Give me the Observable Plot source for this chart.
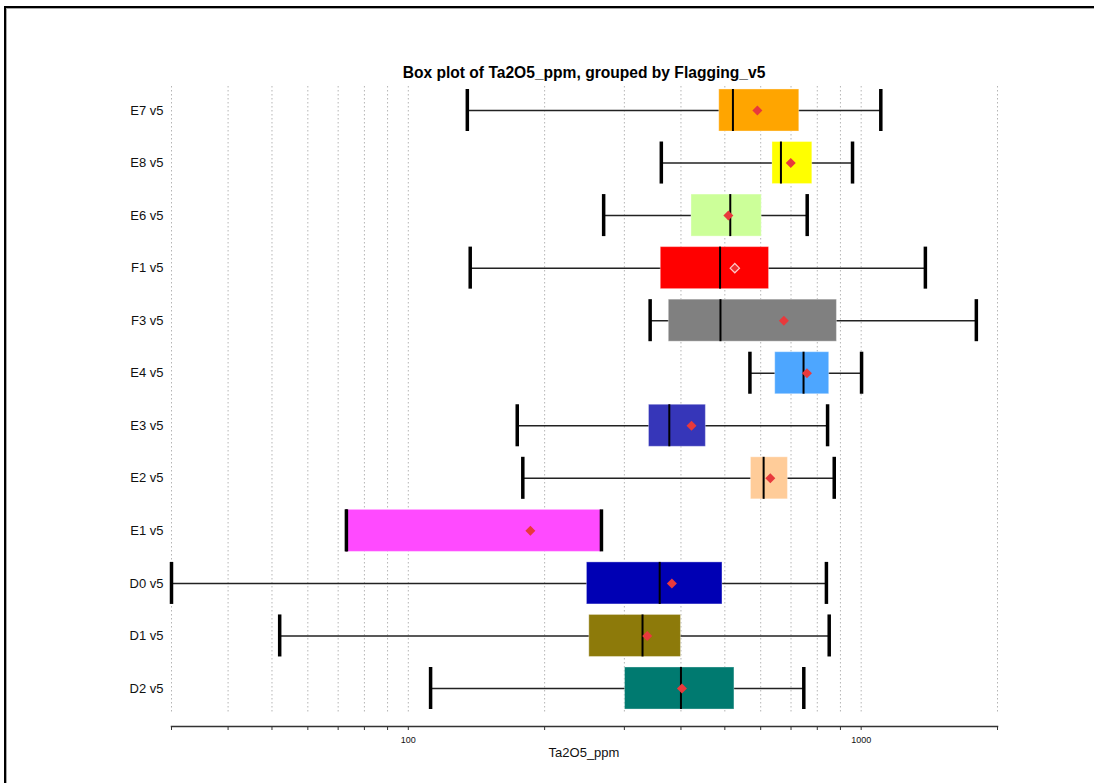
<!DOCTYPE html>
<html>
<head>
<meta charset="utf-8">
<script src="https://cdn.jsdelivr.net/npm/d3@7"></script>
<script src="https://cdn.jsdelivr.net/npm/@observablehq/plot@0.6"></script>
<style>
  html, body { margin: 0; padding: 0; background: #fff; }
  #wrap { position: relative; width: 1094px; height: 783px; overflow: hidden; font-family: "Liberation Sans", Arial, sans-serif; }
  #frameOuter { position: absolute; left: 4px; top: 6px; right: -20px; bottom: -20px; border-top: 2px solid #000; border-left: 2px solid #000; }
  #frameInner { position: absolute; left: 0; top: 0; right: 0; bottom: 0; border-top: 1px solid #a8a8a8; border-left: 1px solid #a8a8a8; }
  #chart { position: absolute; left: 0; top: 0; }
  #title { position: absolute; left: 171px; width: 826px; top: 63px; line-height: 20px; text-align: center; font-weight: bold; font-size: 15.6px; color: #000; }
  #xlabel { position: absolute; left: 171px; width: 826px; top: 744px; line-height: 18px; text-align: center; font-size: 13px; color: #111; }
</style>
</head>
<body>
<div id="wrap">
  <div id="frameOuter"><div id="frameInner"></div></div>
  <div id="chart"></div>
  <div id="title">Box plot of Ta2O5_ppm, grouped by Flagging_v5</div>
  <div id="xlabel">Ta2O5_ppm</div>
</div>
<script>
const groups = ["E7 v5","E8 v5","E6 v5","F1 v5","F3 v5","E4 v5","E3 v5","E2 v5","E1 v5","D0 v5","D1 v5","D2 v5"];
const whiskerLow  = [135, 362, 270, 137, 342, 568, 174, 179, 73, 30, 52, 112];
const q1Values    = [486, 637, 422, 361, 376, 646, 340, 571, 73, 248, 251, 301];
const medianValues= [521, 665, 514, 488, 489, 746, 377, 609, 73, 359, 329, 400];
const meanValues  = [590, 699, 509, 526, 675, 759, 422, 630, 186, 382, 337, 402];
const q3Values    = [730, 780, 603, 626, 884, 850, 454, 689, 267, 494, 400, 525];
const whiskerHigh = [1105, 957, 760, 1386, 1796, 1002, 843, 872, 267, 838, 850, 747];
const boxColors   = ["#ffa500","#ffff00","#ccff99","#ff0000","#808080","#4da6ff","#3636b9","#ffcc99","#ff4aff","#0000b4","#8d7a0a","#007a70"];
const gridValues  = [30,40,50,60,70,80,90,100,200,300,400,500,600,700,800,900,1000,2000];
const tickLabels  = [100, 1000];

const rows = groups.map((g, i) => ({
  group: g, low: whiskerLow[i], q1: q1Values[i], median: medianValues[i],
  mean: meanValues[i], q3: q3Values[i], high: whiskerHigh[i], color: boxColors[i]
}));

const chart = Plot.plot({
  width: 1094,
  height: 783,
  marginLeft: 171,
  marginRight: 97,
  marginTop: 72,
  marginBottom: 57,
  style: { fontFamily: "Liberation Sans, Arial, sans-serif", background: "transparent", color: "#111" },
  x: { type: "log", domain: [30, 2000] },
  y: { type: "band", domain: groups, paddingInner: 0.2, paddingOuter: 0.323, round: false },
  color: { type: "identity" },
  marks: [
    Plot.ruleX(gridValues, { x: d => d, stroke: "#b5b5b5", strokeWidth: 1, strokeDasharray: "1.5,2.5", insetTop: 14, insetBottom: 14 }),
    Plot.frame({ anchor: "bottom", stroke: "#333", strokeWidth: 1.5 }),
    Plot.axisX({ ticks: gridValues, tickFormat: d => tickLabels.includes(d) ? String(d) : "", tickSize: 4, tickPadding: 6, fontSize: 9, label: null, stroke: "#333" }),
    Plot.axisY({ tickSize: 0, tickPadding: 8, fontSize: 13, label: null }),
    Plot.ruleY(rows, { y: "group", x1: "low", x2: "high", stroke: "#222", strokeWidth: 1.5 }),
    Plot.barX(rows, { y: "group", x1: "q1", x2: "q3", fill: "color", stroke: "#fff", strokeOpacity: 0.35, strokeWidth: 1 }),
    Plot.tickX(rows, { y: "group", x: "median", stroke: "#000", strokeWidth: 2 }),
    Plot.tickX(rows, { y: "group", x: "low", stroke: "#000", strokeWidth: 3.5 }),
    Plot.tickX(rows, { y: "group", x: "high", stroke: "#000", strokeWidth: 3.5 }),
    Plot.dot(rows, { y: "group", x: "mean", symbol: "diamond2", r: 4.5, fill: "#e8393c" }),
    Plot.dot(rows, { filter: d => d.group === "F1 v5", y: "group", x: "mean", symbol: "diamond2", r: 4.2, fill: "#f03030", stroke: "#ffc4c4", strokeWidth: 1.2 })
  ]
});
document.getElementById("chart").appendChild(chart);
</script>
</body>
</html>
